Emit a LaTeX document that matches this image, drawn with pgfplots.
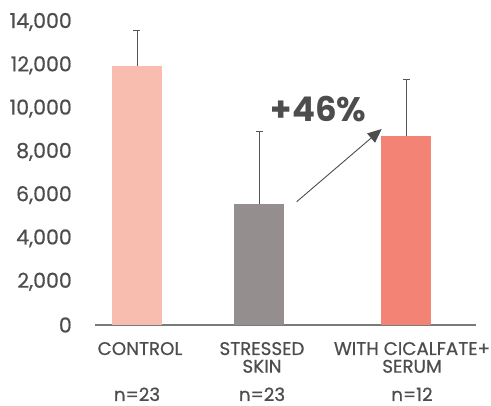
\documentclass[border=0pt]{standalone}
\usepackage{pgfplots}
\pgfplotsset{compat=1.18}
\usepackage{fontspec}
\setmainfont{Poppins}[UprightFeatures={FakeBold=0.6}]
\usetikzlibrary{arrows.meta}
\definecolor{txt}{HTML}{4D4D4D}
\definecolor{errc}{HTML}{555555}
\definecolor{axisgray}{HTML}{7A7A7A}
\definecolor{cctrl}{HTML}{F9BDB0}
\definecolor{cstress}{HTML}{948F8E}
\definecolor{cserum}{HTML}{F38375}
\begin{document}
\begin{tikzpicture}
\useasboundingbox (0,0) rectangle (491pt,406pt);
\begin{axis}[
    at={(94.5pt,81pt)}, anchor=south west,
    scale only axis, width=381.5pt, height=303pt,
    xmin=94.5, xmax=476, ymin=0, ymax=14000,
    clip=false,
    axis x line*=bottom, axis y line*=left,
    y axis line style={draw=none},
    x axis line style={draw=axisgray, line width=1.3pt, -},
    xtick=\empty,
    ytick={0,2000,...,14000},
    scaled y ticks=false,
    major tick length=0pt,
    yticklabel style={font=\fontsize{20.5}{21}\selectfont, text=txt, anchor=east, inner sep=0pt, xshift=-22.5pt},
    /pgf/number format/1000 sep={,},
    /pgf/number format/assume math mode=true,
    error bars/y dir=plus, error bars/y explicit,
    error bars/error bar style={line width=1pt, draw=errc},
    error bars/error mark options={rotate=90, line width=1pt, mark size=3.5pt, draw=errc},
]
% control
\addplot[ybar, bar width=50pt, bar shift=0pt, fill=cctrl, draw=none]
    coordinates {(137,11970) +- (0,1660)};
% stressed skin
\addplot[ybar, bar width=50pt, bar shift=0pt, fill=cstress, draw=none]
    coordinates {(259,5590) +- (0,3340)};
% with cicalfate+ serum
\addplot[ybar, bar width=50pt, bar shift=0pt, fill=cserum, draw=none]
    coordinates {(406,8730) +- (0,2635)};

\draw[draw=txt, line width=0.9pt, -{Triangle[length=14pt,width=12pt]}]
    (axis cs:296.7,5697) -- (axis cs:381.7,9056);
\node[anchor=base, text=txt, inner sep=0pt, font=\fontsize{34}{34}\selectfont\bfseries]
    at (axis cs:318.5,9393) {+46\%};

\begin{scope}[every node/.style={anchor=base, text=txt, inner sep=0pt, font=\fontsize{18.3}{18}\selectfont}]
\node at ([yshift=-30pt]axis cs:140,0) {CONTROL};
\node at ([yshift=-30pt]axis cs:262,0) {STRESSED};
\node at ([yshift=-47.7pt]axis cs:262,0) {SKIN};
\node at ([yshift=-30pt]axis cs:412,0) {WITH CICALFATE+};
\node at ([yshift=-47.7pt]axis cs:412,0) {SERUM};
\node at ([yshift=-76pt]axis cs:137,0) {n=23};
\node at ([yshift=-76pt]axis cs:262,0) {n=23};
\node at ([yshift=-76pt]axis cs:412,0) {n=12};
\end{scope}
\end{axis}
\end{tikzpicture}
\end{document}
